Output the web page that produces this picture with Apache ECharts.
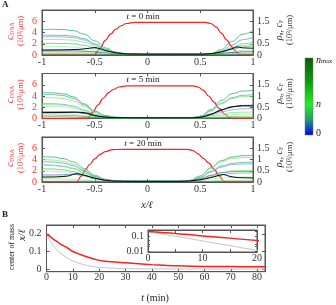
<!DOCTYPE html>
<html><head><meta charset="utf-8">
<script src="https://cdn.jsdelivr.net/npm/echarts@6/dist/echarts.min.js"></script>
<style>html,body{margin:0;padding:0;background:#fff}#c{width:336px;height:305px}</style>
</head><body><div id="c"></div>
<script>
// ---------- DATA ----------
const XS = [-1,-0.9,-0.8,-0.7,-0.6,-0.5,-0.4,-0.3,-0.2,-0.1,0,0.1,0.2,0.3,0.4,0.5,0.6,0.7,0.8,0.9,1];
const X_TICKS = [-1,-0.5,0,0.5,1];
const TIME_LABELS = ['0','5','20'];

// t = 0 min  (rho_n, c_F in 10^3/um)
const t0_1 = [1.13,1.14,1.13,1.08,0.93,0.63,0.32,0.13,0.06,0.04,0.03,0.03,0.03,0.03,0.03,0.03,0.06,0.24,0.6,0.92,1.07];
const t0_2 = [0.88,0.88,0.87,0.84,0.73,0.5,0.26,0.11,0.05,0.04,0.03,0.03,0.03,0.03,0.03,0.03,0.05,0.18,0.45,0.68,0.78];
const t0_3 = [0.81,0.81,0.8,0.77,0.67,0.46,0.24,0.1,0.05,0.03,0.03,0.03,0.03,0.03,0.03,0.03,0.05,0.14,0.33,0.5,0.56];
const t0_4 = [0.69,0.69,0.68,0.66,0.57,0.39,0.2,0.09,0.04,0.03,0.03,0.03,0.03,0.03,0.03,0.03,0.04,0.12,0.28,0.42,0.47];
const t0_5 = [0.52,0.52,0.51,0.5,0.43,0.3,0.16,0.07,0.04,0.03,0.03,0.03,0.03,0.03,0.03,0.03,0.04,0.11,0.24,0.36,0.4];
const t0_6 = [0.37,0.37,0.37,0.35,0.31,0.22,0.12,0.06,0.03,0.03,0.03,0.03,0.03,0.03,0.03,0.03,0.03,0.07,0.14,0.2,0.22];
const t0_7 = [0.18,0.18,0.18,0.18,0.17,0.14,0.09,0.05,0.03,0.03,0.03,0.03,0.03,0.03,0.03,0.03,0.04,0.07,0.11,0.14,0.15];
const t0_8 = [0.12,0.12,0.12,0.12,0.11,0.08,0.05,0.03,0.03,0.02,0.02,0.02,0.02,0.02,0.02,0.02,0.03,0.04,0.06,0.07,0.075];
const t0_9 = [0.045,0.045,0.045,0.045,0.04,0.035,0.025,0.02,0.02,0.02,0.02,0.02,0.02,0.02,0.02,0.02,0.02,0.025,0.03,0.035,0.04];
const t0_blackX = [-1,-0.8,-0.65,-0.55,-0.5,-0.45,-0.4,-0.3,-0.2,0,0.5,0.6,0.7,0.8,0.85,0.9,1];
const t0_blackY = [0.22,0.23,0.25,0.3,0.33,0.28,0.2,0.1,0.05,0.04,0.04,0.06,0.14,0.28,0.36,0.32,0.3];
const t0_redX = [-1,-0.5,-0.45,-0.4,-0.35,-0.3,-0.25,-0.2,-0.12,0.55,0.6,0.65,0.7,0.75,0.8,0.85,0.88,1];
const t0_redY = [0,0,1.2,2.6,3.7,4.6,5.2,5.6,5.8,5.8,5.6,5.0,3.9,2.7,1.5,0.4,0,0];

// t = 5 min
const t5_1 = [1.15,1.14,1.1,0.96,0.65,0.33,0.13,0.06,0.03,0.03,0.03,0.03,0.03,0.03,0.03,0.09,0.4,0.8,1.1,1.22,1.25];
const t5_2 = [1.07,1.06,1.02,0.89,0.6,0.3,0.12,0.05,0.03,0.03,0.03,0.03,0.03,0.03,0.03,0.08,0.34,0.68,0.93,1.03,1.06];
const t5_3 = [0.93,0.92,0.89,0.78,0.53,0.27,0.1,0.05,0.03,0.03,0.03,0.03,0.03,0.03,0.03,0.08,0.32,0.64,0.88,0.97,1.0];
const t5_4 = [0.66,0.66,0.63,0.55,0.38,0.19,0.08,0.04,0.03,0.03,0.03,0.03,0.03,0.03,0.03,0.05,0.15,0.29,0.39,0.43,0.44];
const t5_5 = [0.62,0.61,0.59,0.52,0.36,0.18,0.07,0.04,0.03,0.03,0.03,0.03,0.03,0.03,0.03,0.04,0.11,0.2,0.26,0.28,0.29];
const t5_6 = [0.54,0.53,0.51,0.45,0.31,0.16,0.07,0.04,0.03,0.03,0.03,0.03,0.03,0.03,0.03,0.04,0.08,0.14,0.17,0.19,0.19];
const t5_7 = [0.29,0.29,0.29,0.29,0.23,0.12,0.06,0.04,0.03,0.03,0.03,0.03,0.03,0.03,0.03,0.06,0.2,0.39,0.53,0.58,0.59];
const t5_8 = [0.22,0.22,0.21,0.19,0.13,0.07,0.04,0.03,0.03,0.03,0.03,0.03,0.03,0.03,0.03,0.03,0.05,0.07,0.09,0.1,0.1];
const t5_9 = [0.15,0.15,0.14,0.13,0.09,0.05,0.03,0.03,0.02,0.02,0.02,0.02,0.02,0.02,0.02,0.03,0.04,0.05,0.06,0.06,0.06];
const t5_10 = [0.07,0.07,0.07,0.06,0.05,0.03,0.02,0.02,0.02,0.02,0.02,0.02,0.02,0.02,0.02,0.02,0.02,0.025,0.03,0.03,0.03];
const t5_blackX = [-1,-0.8,-0.65,-0.55,-0.5,-0.4,-0.3,0,0.4,0.5,0.6,0.7,0.8,0.9,1];
const t5_blackY = [0.26,0.27,0.28,0.22,0.13,0.06,0.04,0.03,0.03,0.05,0.18,0.37,0.51,0.56,0.56];
const t5_redX = [-1,-0.57,-0.52,-0.47,-0.42,-0.37,-0.32,-0.27,-0.2,0.43,0.48,0.53,0.58,0.63,0.68,0.73,0.78,0.8,1];
const t5_redY = [0,0,1.1,2.4,3.6,4.6,5.2,5.6,5.8,5.8,5.6,5.0,4.0,2.9,1.8,0.8,0.15,0,0];

// t = 20 min
const t20_1 = [1.13,1.11,1.04,0.89,0.6,0.3,0.12,0.05,0.03,0.03,0.03,0.03,0.03,0.03,0.07,0.27,0.63,0.95,1.11,1.17,1.18];
const t20_2 = [1.0,0.98,0.92,0.79,0.53,0.27,0.1,0.05,0.03,0.03,0.03,0.03,0.03,0.03,0.06,0.25,0.59,0.89,1.04,1.09,1.1];
const t20_3 = [0.91,0.89,0.84,0.72,0.49,0.25,0.1,0.04,0.03,0.03,0.03,0.03,0.03,0.03,0.06,0.2,0.47,0.71,0.83,0.87,0.88];
const t20_4 = [0.77,0.75,0.71,0.61,0.42,0.22,0.08,0.04,0.03,0.03,0.03,0.03,0.03,0.03,0.05,0.19,0.44,0.66,0.77,0.8,0.81];
const t20_5 = [0.74,0.73,0.68,0.58,0.4,0.21,0.08,0.04,0.03,0.03,0.03,0.03,0.03,0.03,0.05,0.13,0.29,0.43,0.5,0.52,0.52];
const t20_6 = [0.59,0.58,0.54,0.46,0.32,0.17,0.07,0.04,0.03,0.03,0.03,0.03,0.03,0.03,0.04,0.1,0.22,0.33,0.38,0.4,0.4];
const t20_7 = [0.49,0.48,0.45,0.39,0.27,0.14,0.06,0.03,0.03,0.03,0.03,0.03,0.03,0.03,0.04,0.07,0.13,0.18,0.21,0.22,0.22];
const t20_8 = [0.31,0.31,0.32,0.35,0.28,0.15,0.07,0.04,0.03,0.03,0.03,0.03,0.03,0.03,0.05,0.14,0.29,0.41,0.46,0.47,0.47];
const t20_9 = [0.15,0.15,0.14,0.12,0.09,0.05,0.03,0.03,0.02,0.02,0.02,0.02,0.02,0.02,0.03,0.04,0.05,0.07,0.075,0.075,0.075];
const t20_10 = [0.03,0.03,0.03,0.03,0.03,0.025,0.02,0.02,0.02,0.02,0.02,0.02,0.02,0.02,0.02,0.02,0.02,0.025,0.03,0.03,0.03];
const t20_blackX = [-1,-0.85,-0.75,-0.67,-0.6,-0.5,-0.4,-0.3,0,0.3,0.4,0.5,0.6,0.67,0.72,0.78,0.85,1];
const t20_blackY = [0.22,0.23,0.27,0.37,0.3,0.17,0.08,0.04,0.03,0.03,0.05,0.1,0.2,0.28,0.33,0.25,0.2,0.18];
const t20_redX = [-1,-0.67,-0.63,-0.59,-0.55,-0.5,-0.45,-0.4,-0.33,-0.25,0.38,0.43,0.48,0.53,0.58,0.63,0.68,0.72,0.74,1];
const t20_redY = [0,0,1.0,2.1,3.1,4.1,4.9,5.4,5.75,5.8,5.8,5.6,5.0,4.2,3.4,2.3,1.1,0.2,0,0];

// Panel B: center of mass (x/l) vs t (min)
const bRedT = [0,1,2,3,4,5,6,8,10,12,15,20,25,30,35,40,45,50,60,70,83];
const bRed = [0.2,0.188,0.177,0.166,0.156,0.145,0.136,0.12,0.1,0.088,0.072,0.05,0.042,0.036,0.031,0.026,0.022,0.019,0.016,0.015,0.014];
const bGrayT = [0,1,2,3,4,5,6,8,10,12,15,17,20,25,30,40,50,60,70,83];
const bGray = [0.2,0.17,0.146,0.126,0.109,0.095,0.083,0.063,0.047,0.035,0.023,0.017,0.011,0.006,0.0035,0.002,0.0015,0.001,0.001,0.001];
const bXTicks = [0,10,20,30,40,50,60,70,80];
const bYTicks = [0,0.1,0.2];
const insetXTicks = [0,10,20];
const insetYTicks = [0.01,0.1];

// ---------- STYLE / LAYOUT ----------
const FONT = 'Liberation Serif, DejaVu Serif, serif';
const AX = '#555';
const RED = '#ff2020';
const panelTops = [10, 73.5, 137];
const panels = [
  {lines:[t0_1,t0_2,t0_3,t0_4,t0_5,t0_6,t0_7,t0_8,t0_9],
   colors:['#33b36b','#5aae9e','#86a2dc','#86e386','#52c972','#a6eea6','#3a4fa8','#9be89b','#2e8b3e'],
   bx:t0_blackX, by:t0_blackY, rx:t0_redX, ry:t0_redY},
  {lines:[t5_1,t5_2,t5_3,t5_4,t5_5,t5_6,t5_7,t5_8,t5_9,t5_10],
   colors:['#33b36b','#5aae9e','#86e386','#86a2dc','#86e386','#a6eea6','#1a2a80','#9be89b','#52c972','#2e8b3e'],
   bx:t5_blackX, by:t5_blackY, rx:t5_redX, ry:t5_redY},
  {lines:[t20_1,t20_2,t20_3,t20_4,t20_5,t20_6,t20_7,t20_8,t20_9,t20_10],
   colors:['#33b36b','#86e386','#5aae9e','#86a2dc','#86e386','#52c972','#a6eea6','#5a78c8','#9be89b','#2e8b3e'],
   bx:t20_blackX, by:t20_blackY, rx:t20_redX, ry:t20_redY}
];
const zip = (a,b) => a.map((v,i)=>[v,b[i]]);

const grid = [], xAxis = [], yAxis = [], series = [], graphic = [];
const lbl = (extra) => Object.assign({fontFamily:FONT, fontSize:10, color:'#333'}, extra);

panels.forEach((p, i) => {
  grid.push({left:42, right:83, top:panelTops[i], height:45, show:true, borderColor:AX, borderWidth:1});
});
grid.push({left:46.5, right:71, top:225, height:46.7, show:true, borderColor:AX, borderWidth:1}); // 3
grid.push({left:148, right:79, top:230, height:22, show:true, borderColor:AX, borderWidth:1, backgroundColor:'#fff', z:10}); // 4

// A x axes bottom (0-2), top (3-5)
panels.forEach((p,i)=>{
  xAxis.push({gridIndex:i, type:'value', min:-1, max:1, position:'bottom',
    axisLine:{show:true,onZero:false,lineStyle:{color:AX}},
    axisTick:{show:true,inside:true,length:3,customValues:X_TICKS,lineStyle:{color:AX}},
    axisLabel:lbl({customValues:X_TICKS, margin:2, formatter:v=>String(v)}),
    splitLine:{show:false}});
});
panels.forEach((p,i)=>{
  xAxis.push({gridIndex:i, type:'value', min:-1, max:1, position:'top',
    axisLine:{show:true,onZero:false,lineStyle:{color:AX}},
    axisTick:{show:true,inside:true,length:3,customValues:X_TICKS,lineStyle:{color:AX}},
    axisLabel:{show:false}, splitLine:{show:false}});
});
// A y axes left (0-2), right (3-5)
panels.forEach((p,i)=>{
  yAxis.push({gridIndex:i, type:'value', min:0, max:8, position:'left',
    axisLine:{show:true,onZero:false,lineStyle:{color:AX}},
    axisTick:{show:true,inside:true,length:3,customValues:[0,2,4,6,8],lineStyle:{color:AX}},
    axisLabel:lbl({customValues:[0,2,4,6], margin:5, color:'#ff3030'}),
    splitLine:{show:false}});
});
panels.forEach((p,i)=>{
  yAxis.push({gridIndex:i, type:'value', min:0, max:2, position:'right',
    axisLine:{show:true,onZero:false,lineStyle:{color:AX}},
    axisTick:{show:true,inside:true,length:3,customValues:[0,0.5,1,1.5,2],lineStyle:{color:AX}},
    axisLabel:lbl({customValues:[0,0.5,1,1.5], margin:4}),
    splitLine:{show:false}});
});
// B axes: x 6 (bottom), 7 (top); inset x 8, 9
xAxis.push({gridIndex:3, type:'value', min:0, max:83, position:'bottom',
  axisLine:{show:true,onZero:false,lineStyle:{color:AX}},
  axisTick:{show:true,inside:true,length:3,customValues:bXTicks,lineStyle:{color:AX}},
  axisLabel:lbl({customValues:bXTicks, margin:1}), splitLine:{show:false}});
xAxis.push({gridIndex:3, type:'value', min:0, max:83, position:'top',
  axisLine:{show:true,onZero:false,lineStyle:{color:AX}},
  axisTick:{show:true,inside:true,length:3,customValues:bXTicks,lineStyle:{color:AX}},
  axisLabel:{show:false}, splitLine:{show:false}});
xAxis.push({gridIndex:4, type:'value', min:0, max:20, position:'bottom', z:11,
  axisLine:{show:true,onZero:false,lineStyle:{color:AX}},
  axisTick:{show:true,inside:true,length:3,customValues:[0,5,10,15,20],lineStyle:{color:AX}},
  axisLabel:lbl({customValues:insetXTicks, margin:1}), splitLine:{show:false}});
xAxis.push({gridIndex:4, type:'value', min:0, max:20, position:'top', z:11,
  axisLine:{show:true,onZero:false,lineStyle:{color:AX}},
  axisTick:{show:true,inside:true,length:3,customValues:[0,5,10,15,20],lineStyle:{color:AX}},
  axisLabel:{show:false}, splitLine:{show:false}});
// B y axes 6 (left), 7 (right); inset 8, 9
yAxis.push({gridIndex:3, type:'value', min:-0.014, max:0.25, position:'left',
  axisLine:{show:true,onZero:false,lineStyle:{color:AX}},
  axisTick:{show:true,inside:true,length:3,customValues:bYTicks,lineStyle:{color:AX}},
  axisLabel:lbl({customValues:bYTicks, margin:5}), splitLine:{show:false}});
yAxis.push({gridIndex:3, type:'value', min:-0.014, max:0.25, position:'right',
  axisLine:{show:true,onZero:false,lineStyle:{color:AX}},
  axisTick:{show:true,inside:true,length:3,customValues:bYTicks,lineStyle:{color:AX}},
  axisLabel:{show:false}, splitLine:{show:false}});
yAxis.push({gridIndex:4, type:'log', logBase:10, min:0.0086, max:0.25, position:'left', z:11,
  axisLine:{show:true,onZero:false,lineStyle:{color:AX}},
  axisTick:{show:true,inside:true,length:2,customValues:[0.01,0.02,0.03,0.05,0.1,0.2],lineStyle:{color:AX}},
  axisLabel:lbl({customValues:insetYTicks, margin:4, formatter:v=> v<0.05?'0.01':'0.1'}), splitLine:{show:false}});
yAxis.push({gridIndex:4, type:'log', logBase:10, min:0.0086, max:0.25, position:'right', z:11,
  axisLine:{show:true,onZero:false,lineStyle:{color:AX}},
  axisTick:{show:true,inside:true,length:2,customValues:[0.01,0.02,0.03,0.05,0.1,0.2],lineStyle:{color:AX}},
  axisLabel:{show:false}, splitLine:{show:false}});

// Series A
panels.forEach((p,i)=>{
  series.push({type:'line', xAxisIndex:i, yAxisIndex:i, data:zip(p.rx,p.ry), showSymbol:false,
    smooth:0.4, smoothMonotone:'x', lineStyle:{color:RED,width:1.2}, z:2, silent:true});
  p.lines.forEach((arr,k)=>{
    series.push({type:'line', xAxisIndex:i, yAxisIndex:3+i, data:zip(XS,arr), showSymbol:false,
      smooth:0.4, smoothMonotone:'x', lineStyle:{color:p.colors[k],width:1,opacity:0.8}, z:3, silent:true});
  });
  series.push({type:'line', xAxisIndex:i, yAxisIndex:3+i, data:zip(p.bx,p.by), showSymbol:false,
    smooth:0.3, lineStyle:{color:'#000',width:1}, z:4, silent:true});
});
// Series B
series.push({type:'line', xAxisIndex:6, yAxisIndex:6, data:zip(bGrayT,bGray), showSymbol:false, smooth:0.4,
  lineStyle:{color:'#c4c4c4',width:1}, z:2, silent:true});
series.push({type:'line', xAxisIndex:6, yAxisIndex:6, data:zip(bRedT,bRed), showSymbol:false, smooth:0.4,
  lineStyle:{color:RED,width:1.5}, z:2, silent:true});
series.push({type:'line', xAxisIndex:8, yAxisIndex:8, data:zip(bGrayT,bGray), showSymbol:false, smooth:0.4,
  lineStyle:{color:'#c4c4c4',width:1}, z:12, silent:true});
series.push({type:'line', xAxisIndex:8, yAxisIndex:8, data:zip(bRedT,bRed), showSymbol:false, smooth:0.4,
  lineStyle:{color:RED,width:1.5}, z:12, silent:true});

// Text
const txt = (x,y,text,extra,rot) => ({type:'text', x, y, rotation:rot||0, z:20, silent:true,
  style:Object.assign({text, fontFamily:FONT, fontSize:10, fill:'#222', align:'center', verticalAlign:'middle'}, extra)});
graphic.push(txt(2,5,'A',{fontWeight:'bold',fontSize:9,align:'left'}));
graphic.push(txt(2,215,'B',{fontWeight:'bold',fontSize:9,align:'left'}));
panelTops.forEach((top,i)=>{
  graphic.push(txt(143, top+6.5, '{i|t} = '+TIME_LABELS[i]+' min', {fontSize:9,
    rich:{i:{fontStyle:'italic',fontSize:9,fontFamily:FONT,fill:'#222'}}}));
  graphic.push(txt(10, top+21, '{i|c}{s|DNA}', {fill:'#ff3030',
    rich:{i:{fontStyle:'italic',fontSize:11,fontFamily:FONT,fill:'#ff3030'},
          s:{fontSize:6,fontFamily:FONT,fill:'#ff3030',verticalAlign:'bottom',lineHeight:9}}}, Math.PI/2));
  graphic.push(txt(21, top+21, '(10³/μm)', {fill:'#ff3030',fontSize:8.5}, Math.PI/2));
  graphic.push(txt(279, top+20, '{i|ρ}{s|n}{i|, c}{s|F}', {
    rich:{i:{fontStyle:'italic',fontSize:10,fontFamily:FONT,fill:'#333'},
          s:{fontSize:6,fontFamily:FONT,fill:'#333',verticalAlign:'bottom',lineHeight:9}}}, Math.PI/2));
  graphic.push(txt(290, top+20, '(10³/μm)', {fill:'#333',fontSize:8.5}, Math.PI/2));
});
graphic.push(txt(147, 205, 'x/ℓ', {fontStyle:'italic',fontSize:10}));
graphic.push(txt(12, 247, 'center of mass', {fontSize:8}, Math.PI/2));
graphic.push(txt(22, 235, 'x/ℓ', {fontStyle:'italic',fontSize:10}, Math.PI/2));
graphic.push(txt(155, 298, '{i|t} (min)', {rich:{i:{fontStyle:'italic',fontSize:10,fontFamily:FONT,fill:'#222'}}}));
// colorbar
graphic.push({type:'rect', shape:{x:305,y:58,width:8,height:77}, z:20, silent:true,
  style:{stroke:'#777', lineWidth:0.5,
    fill:new echarts.graphic.LinearGradient(0,0,0,1,[
      {offset:0,color:'#0b5a0b'},{offset:0.3,color:'#0d9a0d'},{offset:0.6,color:'#22f022'},
      {offset:0.8,color:'#239b6f'},{offset:1,color:'#0000ff'}])}});
graphic.push(txt(316, 60, '{i|n}{s|max}', {align:'left',
  rich:{i:{fontStyle:'italic',fontSize:10,fontFamily:FONT,fill:'#222'},
        s:{fontSize:6.5,fontFamily:FONT,fill:'#222',verticalAlign:'bottom',lineHeight:10}}}));
graphic.push(txt(316, 104, 'n', {align:'left',fontStyle:'italic'}));
graphic.push(txt(316, 133, '0', {align:'left'}));

const chart = echarts.init(document.getElementById('c'), null, {renderer:'canvas', width:336, height:305});
chart.setOption({animation:false, backgroundColor:'#fff', grid, xAxis, yAxis, series, graphic});
</script></body></html>
